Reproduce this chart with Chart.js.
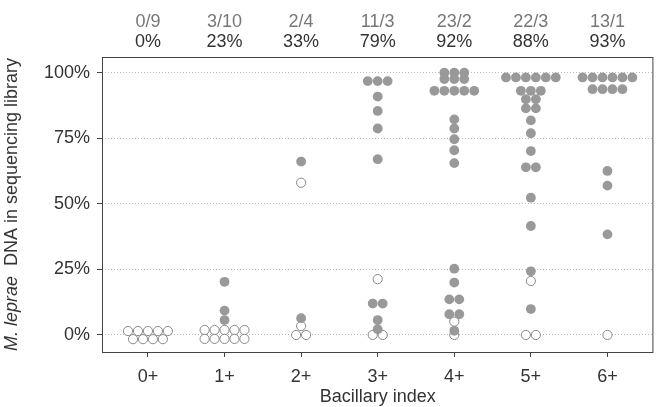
<!DOCTYPE html>
<html>
<head>
<meta charset="utf-8">
<script src="https://cdn.jsdelivr.net/npm/chart.js@4.4.0/dist/chart.umd.min.js"></script>
<style>
  html, body { margin: 0; padding: 0; background: #fff; }
</style>
</head>
<body>
<canvas id="myChart" width="659" height="407"></canvas>
<script>
// categories and the header counts above each column
var categories = ['0+', '1+', '2+', '3+', '4+', '5+', '6+'];
var countLabels = ['0/9', '3/10', '2/4', '11/3', '23/2', '22/3', '13/1'];
var pctLabels = ['0%', '23%', '33%', '79%', '92%', '88%', '93%'];
var yTicks = [0, 25, 50, 75, 100];

// % M. leprae DNA, one list per column (repeated values sit in one row)
var positive = [
    [],
    [20.3, 9.3, 5.7],
    [66.2, 6.4],
    [96.9, 96.9, 96.9, 91, 85.5, 78.8, 67.1, 12, 12, 5.7, 2.2],
    [100.1, 100.1, 100.1, 97.7, 97.7, 97.7, 93.2, 93.2, 93.2, 93.2, 93.2,
     82.3, 78.8, 74.7, 70.5, 65.6, 25.3, 20, 13.6, 13.6, 7.9, 7.9, 1.6],
    [98.3, 98.3, 98.3, 98.3, 98.3, 98.3, 93.2, 93.2, 93.2, 90, 90, 86.5, 86.5,
     81.9, 77, 70.2, 64, 64, 52.4, 41.6, 24.3, 9.9],
    [98.3, 98.3, 98.3, 98.3, 98.3, 98.3, 93.8, 93.8, 93.8, 93.8, 62.6, 57, 38.4]
];
var negative = [
    [1.5, 1.5, 1.5, 1.5, 1.5, -1.6, -1.6, -1.6, -1.6],
    [1.9, 1.9, 1.9, 1.9, 1.9, -1.5, -1.5, -1.5, -1.5, -1.5],
    [58.1, 3.4, 0, 0],
    [21.3, 0, 0],
    [5.1, 0],
    [20.6, 0, 0],
    [0]
];

var DOT_STEP = 0.13; // spacing of dots in a row, in category units

// centre the dots that share a value side by side (beeswarm "center" rows)
function swarm(lists) {
    var pts = [];
    lists.forEach(function (vals, ci) {
        var rows = {};
        vals.forEach(function (v) { (rows[v] = rows[v] || []).push(v); });
        Object.keys(rows).forEach(function (k) {
            var row = rows[k];
            for (var i = 0; i < row.length; i++) {
                pts.push({ x: ci + (i - (row.length - 1) / 2) * DOT_STEP, y: row[i] });
            }
        });
    });
    return pts;
}

var textColor = '#333';
var font = '"Liberation Sans", Arial, sans-serif';
var fs = 18;

var frame = {
    id: 'frame',
    beforeDatasetsDraw: function (chart) {
        var a = chart.chartArea, c = chart.ctx;
        c.save();
        c.strokeStyle = '#444';
        c.lineWidth = 1;
        c.strokeRect(a.left + 0.5, a.top + 0.5, a.right - a.left - 1, a.bottom - a.top);
        c.restore();
    },
    afterDraw: function (chart) {
        var c = chart.ctx, a = chart.chartArea, xs = chart.scales.x;
        c.save();
        c.textAlign = 'center';
        c.textBaseline = 'middle';
        c.font = fs + 'px ' + font;
        categories.forEach(function (cat, i) {
            var px = xs.getPixelForValue(i);
            c.fillStyle = '#777';
            c.fillText(countLabels[i], px, 22);
            c.fillStyle = textColor;
            c.fillText(pctLabels[i], px, 42);
        });
        // x title
        c.fillStyle = textColor;
        c.fillText('Bacillary index', (a.left + a.right) / 2, 397);
        // y title with italic species name
        var it = 'M. leprae', rest = '  DNA in sequencing library';
        c.translate(12, (a.top + a.bottom) / 2);
        c.rotate(-Math.PI / 2);
        c.font = 'italic ' + fs + 'px ' + font;
        var w1 = c.measureText(it).width;
        c.font = fs + 'px ' + font;
        var w2 = c.measureText(rest).width;
        var start = -(w1 + w2) / 2;
        c.textAlign = 'left';
        c.font = 'italic ' + fs + 'px ' + font;
        c.fillText(it, start, 0);
        c.font = fs + 'px ' + font;
        c.fillText(rest, start + w1, 0);
        c.restore();
    }
};

const ctx = document.getElementById('myChart').getContext('2d');
const myChart = new Chart(ctx, {
    type: 'scatter',
    data: {
        datasets: [{
            label: 'positive',
            data: swarm(positive),
            backgroundColor: '#999',
            borderColor: '#999',
            borderWidth: 0,
            pointRadius: 4.9
        }, {
            label: 'negative',
            data: swarm(negative),
            backgroundColor: '#fff',
            borderColor: '#888',
            borderWidth: 1,
            pointRadius: 4.6
        }]
    },
    options: {
        responsive: false,
        animation: false,
        layout: { padding: { top: 57, right: 2, left: 0, bottom: 0 } },
        plugins: {
            legend: { display: false },
            tooltip: { enabled: false }
        },
        scales: {
            x: {
                type: 'linear',
                min: -0.6,
                max: 6.6,
                afterBuildTicks: function (s) {
                    s.ticks = categories.map(function (c, i) { return { value: i }; });
                },
                afterFit: function (s) { s.height = 55; },
                ticks: {
                    color: textColor,
                    font: { size: fs, family: font },
                    padding: 9,
                    maxRotation: 0,
                    callback: function (v) { return categories[v]; }
                },
                grid: {
                    drawOnChartArea: false,
                    tickColor: '#444',
                    tickLength: 5
                },
                border: { display: false }
            },
            y: {
                min: -6.5,
                max: 106.1,
                afterBuildTicks: function (s) {
                    s.ticks = yTicks.map(function (v) { return { value: v }; });
                },
                afterFit: function (s) { s.width = 102; },
                ticks: {
                    color: textColor,
                    font: { size: fs, family: font },
                    padding: 7,
                    callback: function (v) { return v + '%'; }
                },
                grid: {
                    color: '#bbb',
                    tickColor: '#444',
                    tickLength: 5,
                    tickBorderDash: []
                },
                border: { display: false, dash: [1, 2] }
            }
        }
    },
    plugins: [frame]
});
</script>
</body>
</html>
